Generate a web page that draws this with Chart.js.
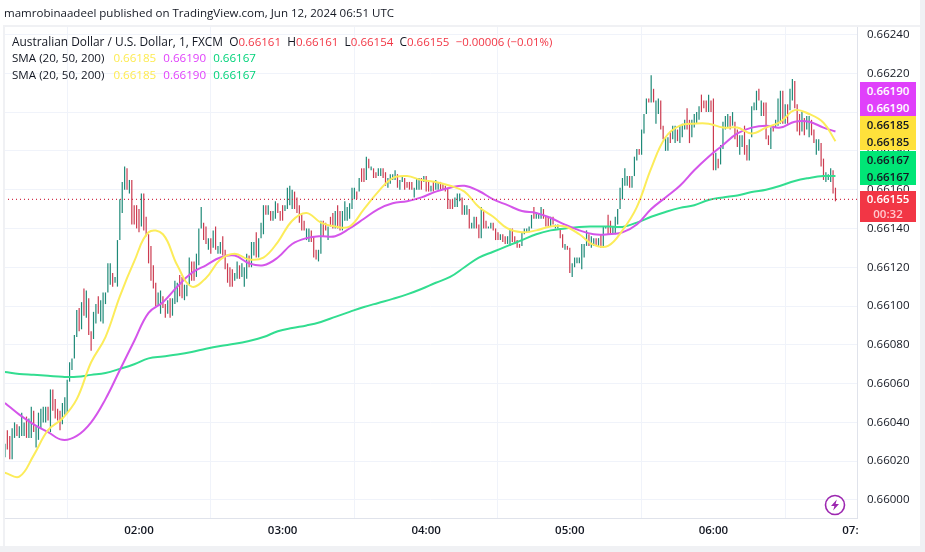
<!DOCTYPE html>
<html>
<head>
<meta charset="utf-8">
<title>AUD/USD</title>
<script src="https://cdn.jsdelivr.net/npm/chart.js@4"></script>
<style>
    html, body { margin: 0; padding: 0; background: #fff; }
    body { width: 925px; height: 552px; position: relative; overflow: hidden; font-family: "Open Sans", sans-serif; color: #131722; }
    #cv { position: absolute; left: 0; top: 0; }
    .txt { position: absolute; white-space: nowrap; font-size: 11.6px; line-height: 16px; }
    .tag { position: absolute; left: 860px; width: 56px; text-align: center; font-size: 11.5px; line-height: 17px; font-weight: 600; }
    .frame { position: absolute; background: #f0f1f4; }
    .v1 { margin-left: 3px; }
    .v2 { margin-left: 1px; }
    .ohlc { color: #f23645; font-size: 11.5px; }
</style>
</head>
<body>
<canvas id="cv" width="925" height="552"></canvas>
<div style="position:absolute;left:859px;top:519px;width:60px;height:26px;background:#fff"></div>
<div class="frame" style="left:0;top:546px;width:925px;height:6px"></div>
<div class="frame" style="left:920px;top:0;width:5px;height:552px"></div>
<div class="frame" style="left:3px;top:25px;width:917px;height:2px"></div>
<div class="frame" style="left:3px;top:25px;width:2px;height:521px"></div>

<div class="txt" style="left:4px;top:5px;font-size:11.55px">mamrobinaadeel published on TradingView.com, Jun 12, 2024 06:51 UTC</div>
<div class="txt" style="left:12px;top:33px;font-size:11.9px">Australian Dollar / U.S. Dollar, 1, FXCM&nbsp; O<span class="ohlc">0.66161</span>&nbsp; H<span class="ohlc">0.66161</span>&nbsp; L<span class="ohlc">0.66154</span>&nbsp; C<span class="ohlc">0.66155</span>&nbsp; <span class="ohlc" style="font-size:11.4px">−0.00006 (−0.01%)</span></div>
<div class="txt" style="left:12px;top:50px">SMA (20, 50, 200)&nbsp; <span class="v1" style="color:#fdeb52">0.66185</span>&nbsp; <span class="v2" style="color:#e040fb">0.66190</span>&nbsp; <span class="v2" style="color:#00d27a">0.66167</span></div>
<div class="txt" style="left:12px;top:67px">SMA (20, 50, 200)&nbsp; <span class="v1" style="color:#fdeb52">0.66185</span>&nbsp; <span class="v2" style="color:#e040fb">0.66190</span>&nbsp; <span class="v2" style="color:#00d27a">0.66167</span></div>

<div class="tag" style="top:82px;height:34px;background:#e040fb;color:#fff">0.66190<br>0.66190</div>
<div class="tag" style="top:116px;height:34px;background:#ffe13b">0.66185<br>0.66185</div>
<div class="tag" style="top:151px;height:34px;background:#00e676">0.66167<br>0.66167</div>
<div class="tag" style="top:191px;height:31px;line-height:15px;background:#f23645;color:#fff">0.66155<br><span style="color:#ffc9cf">00:32</span></div>

<svg style="position:absolute;left:824px;top:494px" width="22" height="22" viewBox="0 0 22 22">
    <circle cx="11" cy="11" r="9.5" fill="#fff" stroke="#9c27b0" stroke-width="1.6"/>
    <path d="M12.8 5.5 L7 12 H10.4 L9.2 16.5 L15 10 H11.6 Z" fill="#9c27b0"/>
</svg>

<script>
// prices are in 1/100000 so 66161 means 0.66161, time is minutes after midnight
const firstMinute = 64;
const hourMinutes = [120, 180, 240, 300, 360, 420];
const priceTicks = [66000, 66020, 66040, 66060, 66080, 66100, 66120, 66140, 66160, 66180, 66200, 66220, 66240];
const lastPrice = 66155;

const highs = [
    66029, 66036, 66033, 66037, 66040, 66039, 66038, 66045, 66040, 66043, 66042, 66048, 66046, 66038, 66045, 66047, 66048, 66048, 66048, 66057,
    66057, 66052, 66047, 66046, 66050, 66053, 66062, 66071, 66073, 66085, 66098, 66099, 66102, 66109, 66108, 66104, 66087, 66097, 66101, 66105,
    66103, 66107, 66107, 66122, 66122, 66117, 66115, 66134, 66155, 66164, 66172, 66171, 66165, 66165, 66152, 66152, 66150, 66158, 66158, 66146,
    66137, 66131, 66121, 66112, 66107, 66108, 66105, 66101, 66103, 66104, 66104, 66113, 66112, 66116, 66115, 66111, 66111, 66125, 66123, 66123,
    66127, 66140, 66151, 66143, 66141, 66135, 66135, 66139, 66141, 66131, 66133, 66136, 66129, 66122, 66120, 66119, 66117, 66123, 66121, 66122,
    66120, 66127, 66126, 66133, 66133, 66138, 66135, 66143, 66152, 66152, 66152, 66149, 66149, 66154, 66153, 66149, 66152, 66152, 66161, 66162,
    66160, 66159, 66156, 66152, 66147, 66144, 66140, 66140, 66139, 66136, 66129, 66129, 66144, 66144, 66143, 66141, 66146, 66148, 66149, 66152,
    66149, 66149, 66154, 66151, 66153, 66161, 66161, 66159, 66166, 66171, 66171, 66177, 66176, 66172, 66171, 66169, 66171, 66171, 66171, 66169,
    66166, 66168, 66168, 66170, 66168, 66165, 66167, 66166, 66164, 66164, 66164, 66161, 66166, 66166, 66166, 66167, 66167, 66164, 66162, 66164,
    66165, 66164, 66164, 66163, 66162, 66161, 66155, 66155, 66156, 66158, 66158, 66156, 66152, 66152, 66150, 66143, 66146, 66146, 66142, 66151,
    66149, 66144, 66141, 66143, 66143, 66140, 66138, 66137, 66137, 66136, 66136, 66140, 66140, 66136, 66134, 66132, 66138, 66140, 66140, 66141,
    66147, 66151, 66148, 66148, 66151, 66150, 66146, 66146, 66146, 66146, 66142, 66142, 66140, 66137, 66132, 66131, 66130, 66122, 66125, 66125,
    66125, 66132, 66132, 66139, 66137, 66136, 66135, 66135, 66135, 66137, 66141, 66141, 66147, 66144, 66141, 66146, 66150, 66161, 66166, 66171,
    66167, 66167, 66167, 66177, 66181, 66181, 66191, 66199, 66207, 66207, 66219, 66212, 66206, 66207, 66206, 66193, 66187, 66187, 66190, 66193,
    66193, 66191, 66193, 66194, 66196, 66202, 66196, 66196, 66199, 66200, 66203, 66209, 66206, 66206, 66209, 66206, 66207, 66179, 66176, 66183,
    66195, 66198, 66199, 66198, 66200, 66195, 66191, 66188, 66188, 66193, 66183, 66186, 66203, 66205, 66211, 66212, 66206, 66205, 66205, 66188,
    66192, 66193, 66196, 66207, 66211, 66211, 66204, 66204, 66212, 66217, 66216, 66204, 66199, 66200, 66197, 66198, 66198, 66196, 66191, 66186,
    66186, 66184, 66176, 66169, 66168, 66171, 66170, 66161
];
const lows = [
    66022, 66026, 66021, 66021, 66032, 66033, 66032, 66033, 66033, 66032, 66032, 66032, 66035, 66027, 66031, 66037, 66040, 66040, 66041, 66035,
    66046, 66042, 66041, 66036, 66039, 66044, 66045, 66061, 66067, 66073, 66084, 66087, 66088, 66095, 66094, 66085, 66077, 66083, 66091, 66096,
    66092, 66091, 66101, 66107, 66111, 66110, 66112, 66110, 66134, 66148, 66160, 66160, 66158, 66142, 66142, 66140, 66138, 66141, 66139, 66136,
    66122, 66113, 66109, 66100, 66100, 66096, 66099, 66094, 66096, 66094, 66095, 66101, 66102, 66105, 66104, 66103, 66105, 66111, 66113, 66113,
    66115, 66121, 66140, 66134, 66132, 66129, 66127, 66130, 66129, 66127, 66127, 66126, 66119, 66112, 66110, 66110, 66113, 66114, 66114, 66115,
    66110, 66114, 66120, 66120, 66126, 66125, 66125, 66135, 66137, 66147, 66147, 66144, 66144, 66145, 66148, 66144, 66144, 66149, 66150, 66152,
    66150, 66150, 66148, 66143, 66139, 66139, 66134, 66133, 66133, 66125, 66124, 66123, 66127, 66136, 66139, 66134, 66141, 66140, 66140, 66140,
    66139, 66139, 66144, 66144, 66145, 66150, 66155, 66155, 66159, 66164, 66164, 66165, 66171, 66170, 66166, 66166, 66167, 66167, 66166, 66162,
    66161, 66163, 66165, 66165, 66161, 66160, 66164, 66160, 66161, 66160, 66160, 66156, 66160, 66160, 66160, 66164, 66159, 66159, 66159, 66159,
    66160, 66160, 66160, 66160, 66159, 66150, 66150, 66150, 66151, 66151, 66154, 66147, 66147, 66147, 66140, 66140, 66140, 66140, 66135, 66135,
    66140, 66140, 66140, 66140, 66139, 66134, 66134, 66134, 66133, 66132, 66132, 66131, 66133, 66132, 66130, 66130, 66131, 66137, 66138, 66138,
    66140, 66145, 66145, 66145, 66145, 66145, 66141, 66141, 66141, 66142, 66140, 66140, 66135, 66130, 66129, 66129, 66117, 66115, 66120, 66122,
    66122, 66119, 66125, 66131, 66131, 66130, 66131, 66131, 66131, 66130, 66130, 66140, 66137, 66137, 66137, 66137, 66142, 66150, 66155, 66162,
    66162, 66161, 66161, 66167, 66175, 66178, 66178, 66189, 66199, 66205, 66205, 66205, 66194, 66199, 66191, 66186, 66180, 66180, 66184, 66186,
    66184, 66185, 66184, 66187, 66191, 66191, 66184, 66187, 66192, 66194, 66196, 66200, 66202, 66200, 66200, 66200, 66170, 66170, 66171, 66173,
    66181, 66191, 66192, 66191, 66193, 66186, 66182, 66178, 66182, 66178, 66175, 66175, 66187, 66201, 66201, 66206, 66198, 66198, 66186, 66183,
    66181, 66190, 66192, 66193, 66194, 66194, 66194, 66194, 66201, 66206, 66202, 66190, 66188, 66190, 66188, 66191, 66187, 66188, 66184, 66178,
    66180, 66172, 66165, 66164, 66165, 66164, 66158, 66154
];
// u = closed up, d = closed down, ten candles per block
const directions = [
    "udduuduuud", "uuduuuuudu", "dddduuuuuu", "udududduud", "uuuuuduuuu", "ududdddudd", "dddduuddud", "uuudduuudd", "uuuddududu", "uddddduudu",
    "uuduuduuud", "uduuddduuu", "uddddduudd", "duudduddud", "duuuuuudud", "dududduudd", "uuuuduuddd", "duuududdud", "uudddddduu", "uduuduuddu",
    "dduudddudd", "uudddduuuu", "uduuudddud", "uuddudduuu", "uuuuduudud", "uudduuuuuu", "uduuuduuud", "uduudduudu", "uduuudduuu", "uddduddudu",
    "uuududduud", "duuuududdd", "uduuududuu", "ddduduuddu", "udduuudd"
].join("");

// moving averages were read every six minutes
const smaMinutes = [64, 70, 76, 82, 88, 94, 100, 106, 112, 118, 124, 130, 136, 142, 148, 154, 160, 166, 172, 178,
    184, 190, 196, 202, 208, 214, 220, 226, 232, 238, 244, 250, 256, 262, 268, 274, 280, 286, 292, 298,
    304, 310, 316, 322, 328, 334, 340, 346, 352, 358, 364, 370, 376, 382, 388, 394, 400, 406, 411];
const sma20 = [66014, 66012, 66023, 66036, 66042, 66052, 66071, 66084, 66105, 66123, 66138, 66137, 66121, 66110, 66114.5, 66124, 66127, 66124, 66125, 66133,
    66144, 66148, 66143, 66141, 66141, 66150, 66159, 66166, 66167, 66165, 66164, 66162, 66159, 66151, 66146, 66140, 66138, 66139, 66141, 66141,
    66137, 66131.5, 66131, 66139, 66151, 66171, 66187, 66193, 66194, 66194, 66192, 66192, 66189, 66192, 66195, 66201, 66199, 66194.5, 66185];
const sma50 = [66050, 66044, 66039, 66035, 66031, 66033, 66040, 66052, 66067, 66082, 66096.5, 66102, 66110, 66117, 66121, 66125, 66126, 66122, 66121, 66125,
    66132, 66135, 66136, 66136, 66140, 66145, 66150, 66153, 66154, 66156, 66159, 66161, 66162, 66159.3, 66155, 66152, 66149, 66148, 66145.4, 66142,
    66139, 66137, 66137, 66138, 66142, 66150, 66156, 66162, 66170, 66177, 66183, 66189, 66192, 66193, 66192, 66195, 66195, 66192, 66190];
const sma200 = [66066, 66065, 66064.5, 66064, 66063.5, 66063.5, 66064.5, 66065.5, 66067.6, 66070, 66073, 66074, 66075, 66076.3, 66078, 66079.4, 66080.5, 66082, 66084, 66087,
    66088.7, 66090, 66091.8, 66094.4, 66097, 66099.5, 66101.6, 66103.7, 66106, 66108.8, 66112, 66115, 66120, 66125, 66128, 66131, 66134, 66137, 66139, 66140,
    66140.8, 66141, 66141, 66140.8, 66143, 66146, 66148.5, 66150.6, 66152, 66154.7, 66156, 66157, 66158.8, 66160, 66162, 66164.5, 66166, 66167, 66167];

const upColor = "#1f8a78";
const downColor = "#cc3b50";
const gridColor = "#f0f3fa";

function toPoints(times, values) {
    return times.map((t, i) => ({ x: t, y: values[i] }));
}

const candles = highs.map((h, i) => ({ x: firstMinute + i, y: [lows[i], h] }));
const candleColors = highs.map((h, i) => directions[i] === "u" ? upColor : downColor);

new Chart(document.getElementById("cv"), {
    data: {
        datasets: [
            {
                type: "line", label: "Last", order: 0,
                data: [{ x: 63.6, y: lastPrice }, { x: 420, y: lastPrice }],
                borderColor: "#d0304a", borderWidth: 1.2, borderDash: [1, 3], pointRadius: 0
            },
            {
                type: "line", label: "SMA 20", order: 1, data: toPoints(smaMinutes, sma20),
                borderColor: "#fcec5a", borderWidth: 2, pointRadius: 0, tension: 0.4
            },
            {
                type: "line", label: "SMA 200", order: 2, data: toPoints(smaMinutes, sma200),
                borderColor: "#32dd90", borderWidth: 2, pointRadius: 0, tension: 0.4
            },
            {
                type: "line", label: "SMA 50", order: 1, data: toPoints(smaMinutes, sma50),
                borderColor: "#d455ea", borderWidth: 2, pointRadius: 0, tension: 0.4
            },
            {
                type: "bar", label: "AUD/USD", order: 5, data: candles,
                backgroundColor: candleColors, barThickness: 1.2, inflateAmount: 0, grouped: false
            }
        ]
    },
    options: {
        responsive: false,
        animation: false,
        layout: { padding: { left: 4, top: 25, right: 5, bottom: 7 } },
        plugins: { legend: { display: false }, tooltip: { enabled: false } },
        scales: {
            x: {
                type: "linear",
                min: 63.6,
                max: 420,
                offset: false,
                afterBuildTicks: (scale) => { scale.ticks = hourMinutes.map((m) => ({ value: m })); },
                afterFit: (scale) => { scale.height = 27; },
                grid: { color: gridColor, drawTicks: false },
                border: { color: "#e0e3eb" },
                ticks: {
                    autoSkip: false, maxRotation: 0, padding: 6, color: "#131722",
                    font: { family: "Open Sans", size: 11.5, weight: "600" },
                    callback: (v) => String(v / 60).padStart(2, "0") + ":00"
                }
            },
            y: {
                position: "right",
                min: 65990.7,
                max: 66244.9,
                afterBuildTicks: (scale) => { scale.ticks = priceTicks.map((p) => ({ value: p })); },
                afterFit: (scale) => { scale.width = 63; },
                grid: { color: gridColor, drawTicks: false },
                border: { color: "#e0e3eb" },
                ticks: {
                    autoSkip: false, padding: 10, color: "#131722",
                    font: { family: "Open Sans", size: 11.5 },
                    callback: (v) => (v / 100000).toFixed(5)
                }
            }
        }
    }
});
</script>
</body>
</html>
